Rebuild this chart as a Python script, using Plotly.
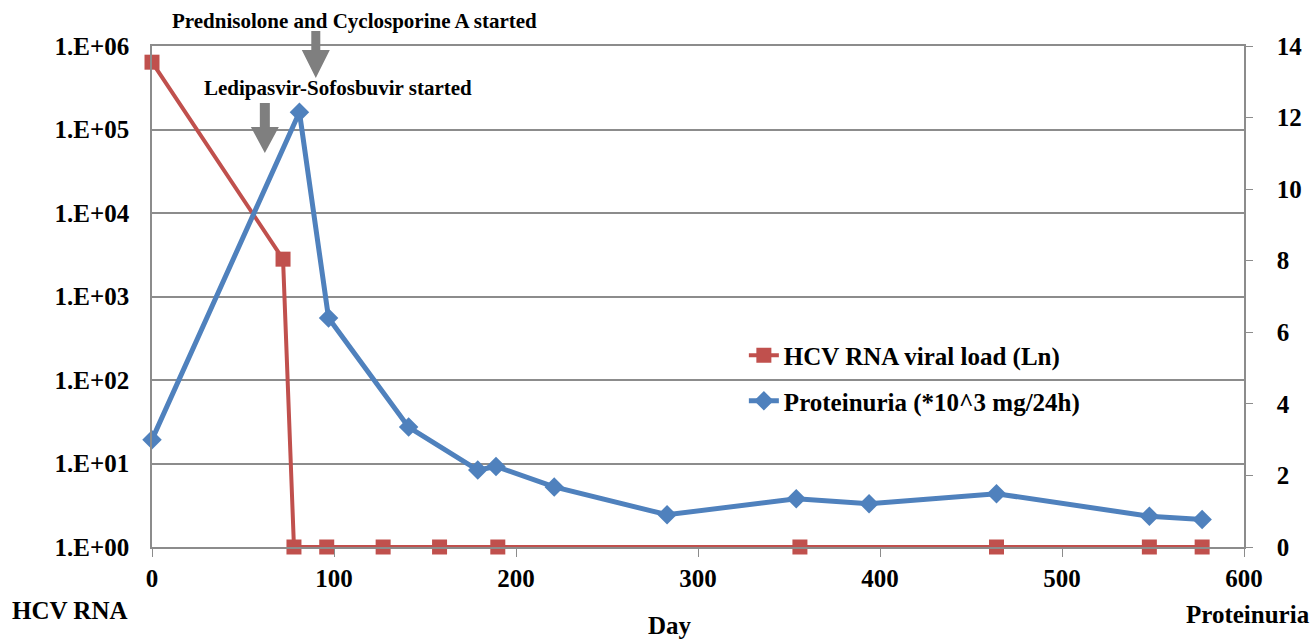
import plotly.graph_objects as go

# ---- data ----
hcv_days = [0, 72, 78, 96, 127, 158, 190, 356, 464, 548, 577]
hcv_load = [640000, 2800, 1, 1, 1, 1, 1, 1, 1, 1, 1]

prot_days = [0, 81, 97, 141, 179, 189, 221, 283, 354, 394, 464, 548, 577]
prot_vals = [3.0, 12.15, 6.4, 3.35, 2.15, 2.25, 1.68, 0.9, 1.35, 1.21, 1.49, 0.86, 0.77]

left_tickvals = [1, 10, 100, 1000, 10000, 100000, 1000000]
left_ticktext = ["1.E+00", "1.E+01", "1.E+02", "1.E+03", "1.E+04", "1.E+05", "1.E+06"]
right_tickvals = [0, 2, 4, 6, 8, 10, 12, 14]
x_tickvals = [0, 100, 200, 300, 400, 500, 600]

event_days = [62, 90]
event_labels = ["Ledipasvir-Sofosbuvir started", "Prednisolone and Cyclosporine A started"]

RED = "#C0504D"
BLUE = "#4F81BD"
GRID = "#8C8C8C"
FONT = "Liberation Serif"

fig = go.Figure()
fig.add_trace(go.Scatter(
    x=hcv_days, y=hcv_load, name="HCV RNA viral load (Ln)",
    mode="lines+markers", line=dict(color=RED, width=4),
    marker=dict(symbol="square", size=15, color=RED),
    cliponaxis=False, legendgroup="a", yaxis="y"))
fig.add_trace(go.Scatter(
    x=prot_days, y=prot_vals, name="Proteinuria (*10^3 mg/24h)",
    mode="lines+markers", line=dict(color=BLUE, width=5),
    marker=dict(symbol="diamond", size=15, color=BLUE),
    cliponaxis=False, legendgroup="b", yaxis="y2"))

tickfont = dict(family=FONT, size=25, color="black", weight="bold")

fig.update_layout(
    width=1315, height=639,
    margin=dict(l=152, r=71, t=46, b=92),
    plot_bgcolor="white", paper_bgcolor="white",
    showlegend=True,
    legend=dict(x=0.542, y=0.428, xanchor="left", yanchor="top",
                font=dict(family=FONT, size=25, color="black", weight="bold"),
                traceorder="grouped", tracegroupgap=10,
                bgcolor="rgba(0,0,0,0)"),
    xaxis=dict(range=[0, 600], tickvals=x_tickvals, ticks="outside", ticklen=8,
               tickcolor=GRID, showline=True, linecolor=GRID, linewidth=1.5,
               mirror=True, showgrid=False, zeroline=False, tickfont=tickfont,
               ticklabelstandoff=0),
    yaxis=dict(type="log", range=[0, 6], tickvals=left_tickvals, ticktext=left_ticktext,
               showgrid=True, gridcolor=GRID, gridwidth=1.5, showline=True,
               linecolor=GRID, linewidth=1.5, ticks="", zeroline=False,
               tickfont=tickfont, ticklabelstandoff=16),
    yaxis2=dict(overlaying="y", side="right", range=[0, 14], tickvals=right_tickvals,
                showgrid=False, showline=True, linecolor=GRID, linewidth=1.5,
                ticks="outside", ticklen=7, tickcolor=GRID, zeroline=False,
                tickfont=tickfont, ticklabelstandoff=19),
)

# event arrows (block arrows), anchored at event day on x, top of plot in paper
arrow_paths = [
    "M -5,-57 L 5,-57 L 5,-81 L 14,-81 L 0,-107 L -14,-81 L -5,-81 Z",
    "M -4.5,15 L 4.5,15 L 4.5,-4 L 14,-4 L 0,-32 L -14,-4 L -4.5,-4 Z",
]
for d, p in zip(event_days, arrow_paths):
    fig.add_shape(type="path", xref="x", yref="paper", xsizemode="pixel",
                  ysizemode="pixel", xanchor=d, yanchor=1, path=p,
                  fillcolor="#7F7F7F", line=dict(width=0), layer="above")

annfont = dict(family=FONT, size=21, color="black", weight="bold")
fig.add_annotation(x=102, y=1, xref="x", yref="paper", yshift=-42,
                   text=event_labels[0], showarrow=False, font=annfont,
                   xanchor="center", yanchor="middle")
fig.add_annotation(x=111.5, y=1, xref="x", yref="paper", yshift=25,
                   text=event_labels[1], showarrow=False, font=annfont,
                   xanchor="center", yanchor="middle")

titlefont = dict(family=FONT, size=25, color="black", weight="bold")
fig.add_annotation(x=-0.0748, y=0, xref="paper", yref="paper", yshift=-63,
                   text="HCV RNA", showarrow=False, font=titlefont,
                   xanchor="center", yanchor="middle")
fig.add_annotation(x=0.4745, y=0, xref="paper", yref="paper", yshift=-78,
                   text="Day", showarrow=False, font=titlefont,
                   xanchor="center", yanchor="middle")
fig.add_annotation(x=1.0035, y=0, xref="paper", yref="paper", yshift=-67,
                   text="Proteinuria", showarrow=False, font=titlefont,
                   xanchor="center", yanchor="middle")

fig.write_html("out.html", config={"displayModeBar": False},
               post_script="document.body.style.margin='0px';document.body.style.overflow='hidden';")
